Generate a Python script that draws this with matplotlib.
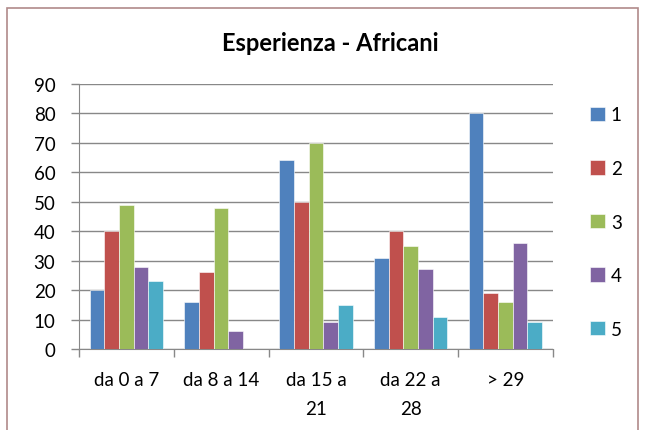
import matplotlib.pyplot as plt
import matplotlib.patches as mpatches
import numpy as np

categories = ["da 0 a 7", "da 8 a 14", "da 15 a\n21", "da 22 a\n28", "> 29"]
series_names = ["1", "2", "3", "4", "5"]
s1 = [20, 16, 64, 31, 80]
s2 = [40, 26, 50, 40, 19]
s3 = [49, 48, 70, 35, 16]
s4 = [28, 6, 9, 27, 36]
s5 = [23, 0, 15, 11, 9]
colors = ["#4f81bd", "#c0504d", "#9bbb59", "#8064a2", "#4bacc6"]

plt.rcParams['font.family'] = ['Lato', 'DejaVu Sans']

fig = plt.figure(figsize=(6.45, 4.31), dpi=100)
ax = fig.add_axes([0.1225, 0.188, 0.7345, 0.615])

x = np.arange(len(categories))
w = 0.155
handles = []
for i, vals in enumerate([s1, s2, s3, s4, s5]):
    b = ax.bar(x + (i - 2) * w, vals, w, color=colors[i], label=series_names[i],
               edgecolor="white", linewidth=0.4, zorder=3)
    handles.append(b)

ax.set_xlim(-0.5, len(categories) - 0.5)
ax.set_ylim(0, 90)
ax.set_yticks(range(0, 91, 10))
ax.yaxis.grid(True, color="#888888", linewidth=1.0, zorder=0)
ax.set_xticks(x)
ax.set_xticklabels(categories, fontsize=13.5, linespacing=1.85)
ax.set_xticks(np.arange(-0.5, len(categories), 1), minor=True)
ax.tick_params(axis="x", which="major", length=0, pad=16)
ax.tick_params(axis="x", which="minor", length=6, color="#888888", width=1)
ax.tick_params(axis="y", labelsize=13.5, length=6, color="#888888", width=1, pad=11)
for side in ["top", "right"]:
    ax.spines[side].set_visible(False)
ax.spines["left"].set_color("#888888")
ax.spines["bottom"].set_color("#888888")

fig.text(0.512, 0.898, "Esperienza - Africani", ha="center", va="center",
         fontsize=17, fontweight="bold")

fig.legend(handles=handles, loc="upper left", bbox_to_anchor=(0.889, 0.79),
           frameon=False, fontsize=13.5, handlelength=0.8, handleheight=0.8,
           handletextpad=0.3, labelspacing=1.95)

fig.patches.append(mpatches.Rectangle((7 / 645, -0.01), 631 / 645, 1 - 9 / 431 + 0.01,
                                      transform=fig.transFigure, fill=False,
                                      edgecolor="#b08a8a", linewidth=1.2))

fig.savefig("out.png", dpi=100)
